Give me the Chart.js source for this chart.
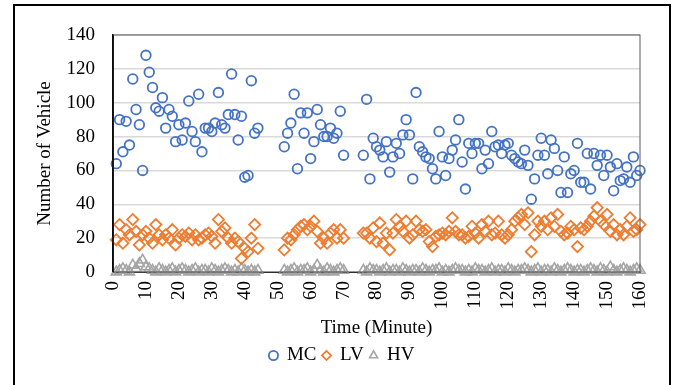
<!DOCTYPE html>
<html>
<head>
<meta charset="utf-8">
<script src="https://cdn.jsdelivr.net/npm/chart.js@4.4.1/dist/chart.umd.min.js"></script>
<style>
  html, body { margin: 0; padding: 0; background: #fff; }
  #wrap { position: relative; width: 682px; height: 385px; }
</style>
</head>
<body>
<div id="wrap"><canvas id="chart" width="682" height="385"></canvas></div>
<script>
// Observation minutes (gaps where no counts were taken)
const minutes = [
    1, 2, 3, 4, 5, 6, 7, 8, 9, 10, 11, 12, 13, 14, 15, 16, 17, 18, 19, 20,
    21, 22, 23, 24, 25, 26, 27, 28, 29, 30, 31, 32, 33, 34, 35, 36, 37, 38, 39, 40,
    41, 42, 43, 44,
    52, 53, 54, 55, 56, 57, 58, 59, 60, 61, 62, 63, 64, 65, 66, 67, 68, 69, 70,
    76, 77, 78, 79, 80, 81, 82, 83, 84, 85, 86, 87, 88, 89, 90, 91, 92, 93, 94, 95,
    96, 97, 98, 99, 100, 101, 102, 103, 104, 105, 106, 107, 108, 109, 110, 111, 112, 113, 114, 115,
    116, 117, 118, 119, 120, 121, 122, 123, 124, 125, 126, 127, 128, 129, 130, 131, 132, 133, 134, 135,
    136, 137, 138, 139, 140, 141, 142, 143, 144, 145, 146, 147, 148, 149, 150, 151, 152, 153, 154, 155,
    156, 157, 158, 159, 160
];

// Motorcycles
const mcCounts = [
    64, 90, 71, 89, 75, 114, 96, 87, 60, 128, 118, 109, 97, 95, 103, 85, 96, 92, 77, 87,
    78, 88, 101, 83, 77, 105, 71, 85, 85, 83, 88, 106, 87, 85, 93, 117, 93, 78, 92, 56,
    57, 113, 82, 85,
    74, 82, 88, 105, 61, 94, 82, 94, 67, 77, 96, 87, 80, 80, 85, 79, 82, 95, 69,
    69, 102, 55, 79, 74, 72, 68, 77, 59, 68, 76, 70, 81, 90, 81, 55, 106, 74, 71, 68,
    67, 61, 55, 83, 68, 57, 67, 72, 78, 90, 65, 49, 76, 70, 76, 76, 61, 72, 64, 83,
    74, 75, 70, 75, 76, 69, 67, 65, 64, 72, 63, 43, 55, 69, 79, 69, 58, 78, 73, 60,
    47, 68, 47, 58, 60, 76, 53, 53, 70, 49, 70, 63, 69, 57, 69, 62, 48, 64, 54, 55,
    62, 53, 68, 57, 60
];

// Light vehicles
const lvCounts = [
    19, 28, 17, 25, 22, 31, 24, 16, 22, 24, 20, 17, 28, 22, 19, 22, 20, 25, 16, 20,
    22, 21, 23, 19, 22, 19, 20, 22, 23, 21, 17, 31, 24, 26, 20, 17, 20, 18, 8, 14,
    12, 20, 28, 14,
    13, 20, 19, 22, 25, 27, 28, 25, 27, 30, 24, 17, 20, 17, 23, 25, 20, 25, 20,
    23, 23, 20, 26, 18, 29, 17, 23, 13, 23, 31, 27, 24, 30, 20, 22, 30, 25, 24, 25,
    18, 15, 21, 22, 23, 22, 24, 32, 24, 22, 22, 20, 21, 27, 23, 20, 28, 24, 30, 22,
    23, 30, 22, 20, 22, 25, 30, 32, 34, 28, 35, 12, 22, 30, 27, 30, 25, 32, 27, 34,
    24, 22, 23, 27, 25, 15, 26, 25, 27, 30, 33, 38, 30, 28, 34, 24, 28, 22, 25, 22,
    27, 32, 24, 25, 28
];

// Heavy vehicles
const hvCounts = [
    0, 1, 2, 1, 0, 4, 2, 5, 7, 3, 2, 1, 0, 2, 1, 0, 1, 2, 0, 1,
    2, 1, 0, 1, 2, 0, 1, 1, 0, 2, 1, 0, 1, 2, 1, 0, 1, 0, 2, 1,
    0, 1, 0, 1,
    1, 0, 1, 2, 0, 1, 1, 2, 0, 1, 4, 1, 0, 2, 1, 0, 1, 2, 1,
    1, 0, 2, 1, 1, 0, 1, 2, 0, 1, 1, 0, 2, 1, 0, 1, 1, 0, 2, 1,
    0, 1, 1, 2, 0, 1, 0, 1, 2, 1, 1, 0, 1, 0, 2, 1, 1, 0, 1, 2,
    0, 1, 1, 0, 2, 1, 0, 1, 1, 2, 1, 0, 1, 2, 0, 1, 1, 0, 2, 1,
    0, 1, 2, 1, 0, 1, 1, 0, 1, 2, 1, 0, 2, 1, 0, 3, 1, 0, 1, 2,
    1, 0, 1, 2, 1
];

const seriesNames = ['MC', 'LV', 'HV'];
const xTicks = { min: 0, max: 160, step: 10 };
const yTicks = { min: 0, max: 140, step: 20 };

const FONT = "'Liberation Serif', 'Times New Roman', serif";

const toPoints = (values) => minutes.map((m, i) => ({ x: m, y: values[i] }));

// Outer chart frame + plot area border
const framePlugin = {
    id: 'frame',
    beforeDraw: (chart) => {
        const ctx = chart.ctx;
        ctx.save();
        ctx.fillStyle = '#fff';
        ctx.fillRect(0, 0, chart.width, chart.height);
        ctx.restore();
    },
    afterLayout: (chart) => {
        // legend is centered on the whole chart frame, not the plot
        if (chart.legend) {
            chart.legend.left = 14;
            chart.legend.right = 670;
        }
    },
    afterDraw: (chart) => {
        const { ctx, chartArea } = chart;
        ctx.save();
        ctx.strokeStyle = '#595959';
        ctx.lineWidth = 1;
        ctx.strokeRect(chartArea.left, chartArea.top, chartArea.right - chartArea.left, chartArea.bottom - chartArea.top);
        ctx.strokeStyle = '#000';
        ctx.lineWidth = 1.5;
        ctx.beginPath();
        ctx.moveTo(chartArea.left, chartArea.top);
        ctx.lineTo(chartArea.left, chartArea.bottom);
        ctx.stroke();
        ctx.lineWidth = 2;
        ctx.strokeRect(14, 5, 656, 400);
        ctx.restore();
    }
};

const ctx = document.getElementById('chart').getContext('2d');
new Chart(ctx, {
    type: 'scatter',
    data: {
        datasets: [
            {
                label: seriesNames[0],
                data: toPoints(mcCounts),
                pointStyle: 'circle',
                pointRadius: 4.8,
                borderWidth: 1.8,
                borderColor: '#4472C4',
                backgroundColor: 'rgba(0,0,0,0)',
                clip: false
            },
            {
                label: seriesNames[1],
                data: toPoints(lvCounts),
                pointStyle: 'rectRot',
                pointRadius: 5.6,
                borderWidth: 1.8,
                borderColor: '#ED7D31',
                backgroundColor: 'rgba(0,0,0,0)',
                clip: false
            },
            {
                label: seriesNames[2],
                data: toPoints(hvCounts),
                pointStyle: 'triangle',
                pointRadius: 5.8,
                borderWidth: 1.6,
                borderColor: '#A5A5A5',
                backgroundColor: 'rgba(0,0,0,0)',
                clip: false
            }
        ]
    },
    options: {
        responsive: false,
        animation: false,
        layout: { padding: { top: 35, right: 42, left: 0, bottom: 10 } },
        plugins: {
            tooltip: { enabled: false },
            legend: {
                position: 'bottom',
                labels: {
                    usePointStyle: true,
                    boxWidth: 8,
                    boxHeight: 6.5,
                    padding: 6,
                    color: '#000',
                    font: { family: FONT, size: 19 }
                }
            }
        },
        scales: {
            x: {
                type: 'linear',
                min: xTicks.min,
                max: xTicks.max,
                afterFit: (s) => { s.height = 68; },
                grid: { display: false, drawTicks: false },
                border: { display: true, color: '#000', width: 1 },
                ticks: {
                    stepSize: xTicks.step,
                    autoSkip: false,
                    minRotation: 90,
                    maxRotation: 90,
                    padding: 9,
                    color: '#000',
                    font: { family: FONT, size: 19 }
                },
                title: {
                    display: true,
                    text: 'Time (Minute)',
                    color: '#000',
                    padding: { top: 4, bottom: 1 },
                    font: { family: FONT, size: 19 }
                }
            },
            y: {
                min: yTicks.min,
                max: yTicks.max,
                afterFit: (s) => { s.width = 113; },
                grid: { color: '#d9d9d9', lineWidth: 1.5, drawTicks: false },
                border: { display: true, color: '#000', width: 1.5 },
                ticks: {
                    stepSize: yTicks.step,
                    padding: 18,
                    color: '#000',
                    font: { family: FONT, size: 19 }
                },
                title: {
                    display: true,
                    text: 'Number of Vehicle',
                    color: '#000',
                    padding: { top: 34, bottom: 0 },
                    font: { family: FONT, size: 19 }
                }
            }
        }
    },
    plugins: [framePlugin]
});
</script>
</body>
</html>
